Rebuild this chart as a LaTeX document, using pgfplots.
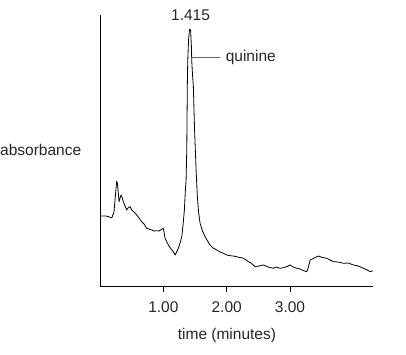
\documentclass[border=0pt]{standalone}
\usepackage{pgfplots}
\pgfplotsset{compat=1.18}
\usepackage{fontspec}
\setmainfont{Liberation Sans}
\begin{document}
\begin{tikzpicture}
\begin{axis}[
  at={(0,0)}, anchor=south west,
  scale only axis, width=273pt, height=271pt,
  xmin=0, xmax=4.31, ymin=0, ymax=271,
  axis x line=bottom, axis y line=left,
  axis line style={-, line width=0.9pt, black},
  xtick={1,2,3}, xticklabels={1.00,2.00,3.00},
  ytick=\empty,
  tick align=outside, major tick length=6pt,
  tick style={black, line width=0.9pt},
  /pgf/number format/assume math mode=true,
  tick label style={font=\fontsize{15.5}{18}\selectfont, text=black!85},
  xticklabel style={yshift=-6pt},
  xlabel={time (minutes)},
  xlabel style={at={(rel axis cs:0.465,0)}, anchor=center, yshift=-49pt, font=\fontsize{15.5}{18}\selectfont, text=black!85},
  clip=false,
]
\addplot[black, line width=0.8pt, line join=round] coordinates {
(0.016,70)(0.095,70)(0.150,69)(0.185,68)(0.221,74)(0.237,86)(0.264,105)(0.276,102)(0.292,91)(0.300,84.3)
(0.332,91)(0.348,89)(0.368,84.3)(0.395,80)(0.422,76)(0.442,78)(0.474,79.3)(0.501,76)(0.537,74)(0.580,71)
(0.616,68)(0.659,64.3)(0.695,62)(0.738,57.7)(0.774,57)(0.817,56)(0.853,55)(0.896,55.3)(0.932,55)(0.975,56.7)
(1.000,57.7)(1.011,54)(1.027,47.7)(1.079,41)(1.122,37)(1.158,34.3)(1.185,31)(1.209,34)(1.237,37.7)(1.264,43)
(1.291,49.3)(1.311,61)(1.332,76)(1.348,96)(1.359,106)(1.370,136)(1.378,198)(1.385,224.3)(1.398,246)(1.414,256.7)
(1.430,256)(1.442,241)(1.449,224.3)(1.461,211)(1.474,199.3)(1.493,156)(1.517,116)(1.537,89.3)(1.556,74)(1.580,62.7)
(1.619,55)(1.659,49.3)(1.698,45)(1.738,41)(1.785,38)(1.844,36)(1.896,34)(1.948,32.7)(1.998,31)(2.054,30.3)
(2.101,30)(2.148,29.5)(2.185,28.7)(2.212,28.5)(2.264,27.7)(2.306,26)(2.343,24.3)(2.385,23)(2.449,19.3)(2.512,20)
(2.580,21)(2.654,19)(2.738,17.7)(2.780,19)(2.844,17.7)(2.907,18.5)(2.954,19.5)(3.002,21)(3.049,19)(3.107,17.7)
(3.160,17)(3.207,15.5)(3.265,14.3)(3.286,18)(3.318,26)(3.381,28)(3.449,30)(3.507,28.5)(3.581,27.7)(3.633,26)
(3.686,24.3)(3.760,24)(3.844,22.7)(3.918,23)(4.002,21)(4.076,20)(4.160,17.7)(4.218,16)(4.265,14.3)(4.308,15.3)
};
\addplot[black!60, line width=0.8pt] coordinates {(1.453,229)(1.896,229)};
\node[font=\fontsize{15.5}{18}\selectfont, text=black!85, anchor=west] at (axis cs:1.93,229) {quinine};
\node[font=\fontsize{15.5}{18}\selectfont, text=black!85, anchor=center] at (axis cs:1.43,271) {1.415};
\node[font=\fontsize{15.5}{18}\selectfont, text=black!85, anchor=west, inner sep=0pt] at (rel axis cs:0,0.502) [xshift=-100pt] {absorbance};
\end{axis}
\path[use as bounding box] (-100pt,-69pt) rectangle (306pt,286pt);
\end{tikzpicture}
\end{document}
